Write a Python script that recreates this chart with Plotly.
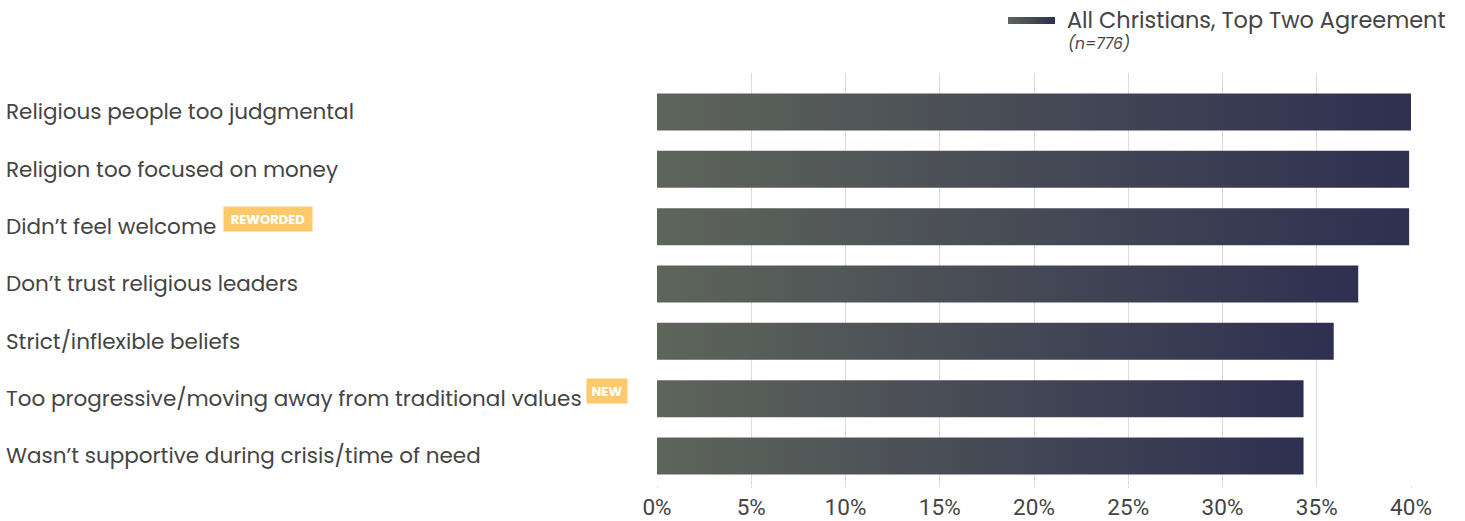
import plotly.graph_objects as go

# Survey data: share agreeing (top-two box), all Christians
categories = [
    "Religious people too judgmental",
    "Religion too focused on money",
    "Didn’t feel welcome",
    "Don’t trust religious leaders",
    "Strict/inflexible beliefs",
    "Too progressive/moving away from traditional values",
    "Wasn’t supportive during crisis/time of need",
]
values = [40.0, 39.9, 39.9, 37.2, 35.9, 34.3, 34.3]
badge_labels = ["", "", "REWORDED", "", "", "NEW", ""]
x_tick_vals = [0, 5, 10, 15, 20, 25, 30, 35, 40]
x_tick_text = ["0%", "5%", "10%", "15%", "20%", "25%", "30%", "35%", "40%"]
series_name = "All Christians, Top Two Agreement"
sample_note = "(n=776)"

# Canvas / layout geometry (pixels)
W, H = 1465, 521
M_L, M_R, M_T, M_B = 657, 54, 10, 36
PLOT_TOP = 73
PW = W - M_L - M_R
PH = H - M_T - M_B

FONT = "Poppins, Open Sans, sans-serif"
TICK_FONT = "Roboto, Open Sans, sans-serif"
TEXT_COLOR = "#444444"
GRID_COLOR = "#dcdcdc"
GRAD = [[0, "#5e655a"], [1, "#2f2f51"]]
BADGE_COLOR = "#fdc96b"
BAR_HALF = 0.323


def px_x(px):
    return (px - M_L) / PW


def px_y(py):
    return (H - M_B - py) / PH


fig = go.Figure()

# Horizontal bars with a left-to-right gradient fill
for i, v in enumerate(values):
    fig.add_trace(go.Scatter(
        x=[0, v, v, 0, 0],
        y=[i - BAR_HALF, i - BAR_HALF, i + BAR_HALF, i + BAR_HALF, i - BAR_HALF],
        mode="lines",
        fill="toself",
        fillgradient=dict(type="horizontal", colorscale=GRAD),
        line=dict(width=0),
        name=categories[i],
        hovertemplate="%{text}<extra></extra>",
        text=[f"{categories[i]}: {v:.1f}%"] * 5,
        showlegend=False,
    ))

# Legend swatch (gradient) on a helper axis pair in pixel units
fig.add_trace(go.Scatter(
    x=[1008, 1055, 1055, 1008, 1008],
    y=[17, 17, 24, 24, 17],
    mode="lines",
    fill="toself",
    fillgradient=dict(type="horizontal", colorscale=GRAD),
    line=dict(width=0),
    xaxis="x2",
    yaxis="y2",
    hoverinfo="skip",
    showlegend=False,
))

annotations = []

# Category labels, left aligned at the figure edge
for i, cat in enumerate(categories):
    annotations.append(dict(
        text=cat, xref="paper", yref="y", x=px_x(4), y=i,
        xanchor="left", yanchor="middle", showarrow=False,
        font=dict(family=FONT, size=21.5, color=TEXT_COLOR),
    ))

# Badges next to selected labels
badge_pos = {"REWORDED": (268, 219, 80), "NEW": (607, 390.5, 32)}
for lab in badge_labels:
    if not lab:
        continue
    cx, cy, bw = badge_pos[lab]
    annotations.append(dict(
        text=f"<b>{lab}</b>", xref="paper", yref="paper",
        x=px_x(cx), y=px_y(cy), xanchor="center", yanchor="middle",
        showarrow=False, bgcolor=BADGE_COLOR, borderpad=4,
        width=bw, height=16, align="center",
        font=dict(family=FONT, size=13, color="white"),
    ))

# Legend text
annotations.append(dict(
    text=series_name, xref="paper", yref="paper",
    x=px_x(1065), y=px_y(20), xanchor="left", yanchor="middle",
    showarrow=False, font=dict(family=FONT, size=22.4, color=TEXT_COLOR),
))
annotations.append(dict(
    text=f"<i>{sample_note}</i>", xref="paper", yref="paper",
    x=px_x(1066), y=px_y(43), xanchor="left", yanchor="middle",
    showarrow=False, font=dict(family=FONT, size=15.5, color=TEXT_COLOR),
))

n = len(categories)
fig.update_layout(
    template="none",
    width=W, height=H,
    margin=dict(l=M_L, r=M_R, t=M_T, b=M_B, pad=0, autoexpand=False),
    paper_bgcolor="white", plot_bgcolor="white",
    showlegend=False,
    annotations=annotations,
    xaxis=dict(
        range=[0, 40], tickvals=x_tick_vals, ticktext=x_tick_text,
        showgrid=True, gridcolor=GRID_COLOR, gridwidth=1,
        zeroline=False, showline=False, automargin=False,
        ticks="outside", ticklen=2, tickcolor=GRID_COLOR, tickwidth=1,
        tickfont=dict(family=TICK_FONT, size=22.5, color=TEXT_COLOR),
        fixedrange=True,
    ),
    yaxis=dict(
        domain=[0, px_y(PLOT_TOP)],
        range=[n - 1 + 0.506, -0.68],
        showgrid=False, zeroline=False, showline=False, automargin=False,
        showticklabels=False, ticks="", fixedrange=True,
    ),
    xaxis2=dict(domain=[0, 1], range=[M_L, W - M_R], anchor="y2",
                visible=False, fixedrange=True, automargin=False),
    yaxis2=dict(domain=[px_y(65), 1], range=[65, M_T], anchor="x2",
                visible=False, fixedrange=True, automargin=False),
)

fig.write_html("out.html")
